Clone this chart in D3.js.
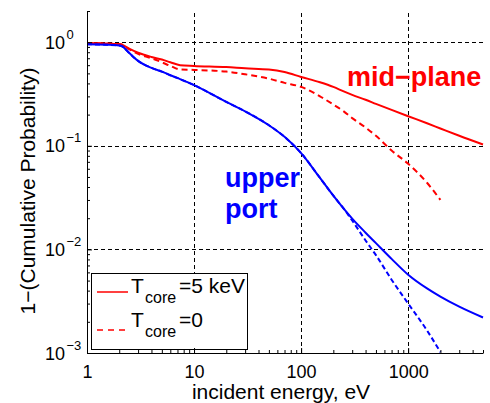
<!DOCTYPE html>
<html>
<head>
<meta charset="utf-8">
<script src="https://cdn.jsdelivr.net/npm/d3@7/dist/d3.min.js"></script>
<style>
  body { margin: 0; background: #fff; }
  svg { font-family: "Liberation Sans", Arial, sans-serif; }
</style>
</head>
<body>
<svg id="chart" width="490" height="403"></svg>
<script>
// incident energy grid (eV)
const energy = [1, 1.5, 2, 2.1, 2.5, 3, 4, 5, 6, 7.4, 10, 20, 30, 50, 70, 100, 150, 200, 250, 300, 400, 500, 700, 1000, 1500, 2000, 3000, 5000];
// T_core=0 curves stop at 2 keV
const energyCold = energy.slice(0, 26);

// 1-(cumulative probability)
const midPlaneHot  = [0.98, 0.97, 0.96, 0.95, 0.86, 0.79, 0.72, 0.68, 0.64, 0.60, 0.59, 0.575, 0.56, 0.545, 0.515, 0.462, 0.41, 0.37, 0.335, 0.31, 0.278, 0.254, 0.222, 0.193, 0.165, 0.147, 0.125, 0.103];
const midPlaneCold = [0.98, 0.97, 0.96, 0.95, 0.85, 0.77, 0.70, 0.64, 0.59, 0.545, 0.54, 0.52, 0.49, 0.445, 0.405, 0.37, 0.30, 0.25, 0.215, 0.185, 0.15, 0.125, 0.09, 0.067, 0.044, 0.030];
const upperPortHot  = [0.955, 0.945, 0.93, 0.92, 0.78, 0.66, 0.565, 0.52, 0.48, 0.44, 0.385, 0.265, 0.215, 0.158, 0.122, 0.085, 0.049, 0.033, 0.0247, 0.0198, 0.0145, 0.0115, 0.0081, 0.0057, 0.0042, 0.0035, 0.0028, 0.0022];
const upperPortCold = [0.955, 0.945, 0.93, 0.92, 0.78, 0.66, 0.565, 0.52, 0.48, 0.44, 0.385, 0.265, 0.215, 0.158, 0.122, 0.085, 0.049, 0.033, 0.0247, 0.019, 0.0122, 0.0088, 0.0051, 0.0030, 0.00165, 0.00102];

const xTicks = [1, 10, 100, 1000];
const yTicks = [1, 0.1, 0.01, 0.001];
const yExponents = ["0", "\u22121", "\u22122", "\u22123"];

const svg = d3.select("#chart");

// Escales log-log
const x = d3.scaleLog().domain([1, 5000]).range([87, 483]);
const y = d3.scaleLog().domain([1e-3, 2]).range([353, 11]);

// minor ticks 2..9 per decade
const xMinor = [];
[1, 10, 100, 1000].forEach(d => { for (let k = 2; k <= 9; k++) if (d * k <= 5000) xMinor.push(d * k); });
const yMinor = [];
[1e-3, 1e-2, 1e-1, 1].forEach(d => { for (let k = 2; k <= 9; k++) if (d * k <= 2) yMinor.push(d * k); });

// grid (dashed)
const grid = svg.append("g").attr("stroke", "#000").attr("stroke-width", 1).attr("stroke-dasharray", "4,3");
grid.selectAll(".gx").data([10, 100, 1000]).enter().append("line")
  .attr("x1", d => Math.round(x(d)) + 0.5).attr("x2", d => Math.round(x(d)) + 0.5)
  .attr("y1", y.range()[0]).attr("y2", y.range()[1]);
grid.selectAll(".gy").data([1, 0.1, 0.01]).enter().append("line")
  .attr("y1", d => Math.round(y(d)) + 0.5).attr("y2", d => Math.round(y(d)) + 0.5)
  .attr("x1", x.range()[0]).attr("x2", x.range()[1]);

// curves
const line = d3.line()
  .x(d => x(d[0]))
  .y(d => y(d[1]))
  .curve(d3.curveMonotoneX);

const series = [
  { e: energy, v: midPlaneHot, color: "#ff0000", dash: null },
  { e: energyCold, v: midPlaneCold, color: "#ff0000", dash: "6,4" },
  { e: energy, v: upperPortHot, color: "#0000ff", dash: null },
  { e: energyCold, v: upperPortCold, color: "#0000ff", dash: "5,3" }
];

svg.append("g").selectAll("path")
  .data(series)
  .enter().append("path")
  .attr("d", s => line(s.e.map((e, i) => [e, s.v[i]])))
  .attr("fill", "none")
  .attr("stroke", s => s.color)
  .attr("stroke-width", 2)
  .attr("stroke-dasharray", s => s.dash);

// curve labels
svg.append("text").attr("x", 347).attr("y", 86)
  .attr("fill", "#ff0000").attr("font-weight", "bold").attr("font-size", 27)
  .text("mid\u2212plane");
svg.append("text").attr("x", 225).attr("y", 187)
  .attr("fill", "#0000ff").attr("font-weight", "bold").attr("font-size", 27)
  .text("upper");
svg.append("text").attr("x", 225).attr("y", 218)
  .attr("fill", "#0000ff").attr("font-weight", "bold").attr("font-size", 27)
  .text("port");

// legend
const leg = svg.append("g");
leg.append("rect").attr("x", 91.5).attr("y", 273.5).attr("width", 156).attr("height", 76)
  .attr("fill", "#fff").attr("stroke", "#000").attr("stroke-width", 1);
const legItems = [
  { label: "=5 keV", dash: null, ly: 292, ty: 293 },
  { label: "=0", dash: "6,5", ly: 330, ty: 327 }
];
legItems.forEach(it => {
  leg.append("line").attr("x1", 97).attr("x2", 128).attr("y1", it.ly).attr("y2", it.ly)
    .attr("stroke", "#ff0000").attr("stroke-width", 1.5).attr("stroke-dasharray", it.dash);
  const t = leg.append("text").attr("x", 131).attr("y", it.ty).attr("font-size", 21).attr("fill", "#000");
  t.append("tspan").text("T");
  t.append("tspan").attr("x", 145).attr("dy", 10).attr("font-size", 16).text("core");
  t.append("tspan").attr("x", 179).attr("dy", -10).text(it.label);
});

// axes
svg.append("g")
  .attr("transform", `translate(0,${y.range()[0]})`)
  .call(d3.axisBottom(x).tickValues(xMinor).tickSize(-3).tickFormat("").tickSizeOuter(0))
  .call(g => g.select(".domain").remove());
svg.append("g")
  .attr("transform", `translate(0,${y.range()[0]})`)
  .call(d3.axisBottom(x).tickValues(xTicks).tickSize(-5).tickSizeOuter(0).tickPadding(12).tickFormat(d3.format("d")))
  .call(g => g.selectAll("text").attr("font-size", 18).attr("font-family", null).attr("fill", "#000"));

svg.append("g")
  .attr("transform", `translate(${x.range()[0]},0)`)
  .call(d3.axisLeft(y).tickValues(yMinor).tickSize(-3).tickFormat("").tickSizeOuter(0))
  .call(g => g.select(".domain").remove());
svg.append("g")
  .attr("transform", `translate(${x.range()[0]},0)`)
  .call(d3.axisLeft(y).tickValues(yTicks).tickSize(-5).tickFormat("").tickSizeOuter(0));

// y tick labels as 10^n
yTicks.forEach((v, i) => {
  svg.append("text").attr("x", 65).attr("y", y(v) + 6.5)
    .attr("text-anchor", "end").attr("font-size", 18).text("10");
  svg.append("text").attr("x", 66.5).attr("y", y(v) - 3.5)
    .attr("font-size", 13).text(yExponents[i]);
});

// axis titles
svg.append("text").attr("x", 281).attr("y", 399)
  .attr("text-anchor", "middle").attr("font-size", 21)
  .text("incident energy, eV");
svg.append("text")
  .attr("transform", "translate(35,191) rotate(-90)")
  .attr("text-anchor", "middle").attr("font-size", 21)
  .text("1\u2212(Cumulative Probability)");
</script>
</body>
</html>
